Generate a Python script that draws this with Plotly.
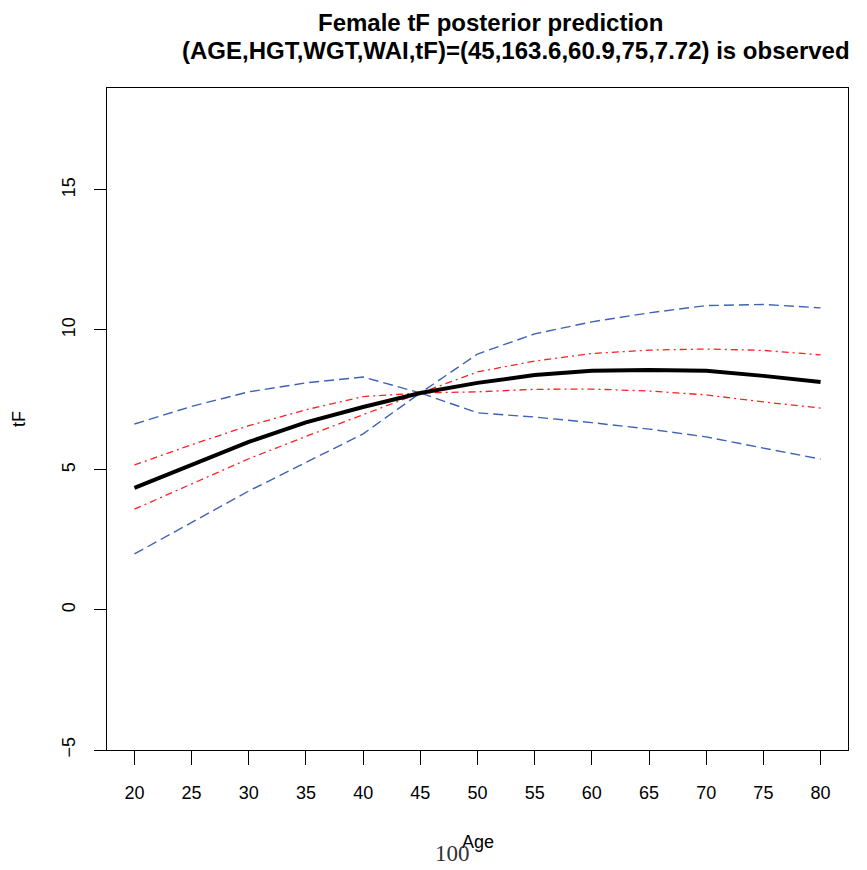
import plotly.graph_objects as go

age = [20, 25, 30, 35, 40, 45, 50, 55, 60, 65, 70, 75, 80]
mean_tf = [4.36, 5.18, 6.0, 6.7, 7.25, 7.75, 8.11, 8.39, 8.54, 8.57, 8.54, 8.36, 8.14]
upper95 = [6.64, 7.27, 7.79, 8.11, 8.32, 7.75, 9.14, 9.86, 10.29, 10.61, 10.87, 10.91, 10.79]
lower95 = [2.0, 3.14, 4.25, 5.27, 6.29, 7.75, 7.04, 6.89, 6.69, 6.46, 6.18, 5.78, 5.39]
upper50 = [5.18, 5.9, 6.58, 7.15, 7.62, 7.75, 8.5, 8.89, 9.16, 9.28, 9.32, 9.27, 9.11]
lower50 = [3.6, 4.5, 5.4, 6.2, 6.98, 7.75, 7.79, 7.88, 7.89, 7.82, 7.68, 7.43, 7.21]

x_ticks = [20, 25, 30, 35, 40, 45, 50, 55, 60, 65, 70, 75, 80]
y_ticks = [-5, 0, 5, 10, 15]

blue = "#3F62B5"
red = "#FF2020"

fig = go.Figure()
fig.add_trace(go.Scatter(x=age, y=upper95, mode="lines",
                         line=dict(color=blue, width=1.4, dash="10px,5px")))
fig.add_trace(go.Scatter(x=age, y=lower95, mode="lines",
                         line=dict(color=blue, width=1.4, dash="10px,5px")))
fig.add_trace(go.Scatter(x=age, y=upper50, mode="lines",
                         line=dict(color=red, width=1.3, dash="7px,4px,2px,4px")))
fig.add_trace(go.Scatter(x=age, y=lower50, mode="lines",
                         line=dict(color=red, width=1.3, dash="7px,4px,2px,4px")))
fig.add_trace(go.Scatter(x=age, y=mean_tf, mode="lines",
                         line=dict(color="black", width=4)))

font = "Liberation Sans, Arial, Helvetica, sans-serif"

# plot area: x 107..848, y 88..750 in window pixels (page body has 8px margin)
PL, PR, PT, PB = 107, 848, 88, 750
PW, PH = PR - PL, PB - PT

def px(x):
    return (x - PL) / PW

def py(y):
    return (PB - y) / PH

fig.update_layout(
    width=859, height=862,
    margin=dict(l=99, r=19, t=80, b=120),
    paper_bgcolor="white", plot_bgcolor="white",
    showlegend=False,
    font=dict(family=font, color="black", size=18),
    xaxis=dict(range=[17.6, 82.4], tickvals=x_ticks, ticktext=[str(v) for v in x_ticks],
               showgrid=False, zeroline=False, showline=True, mirror=True,
               linecolor="black", linewidth=1.2, ticks="outside", ticklen=14,
               tickcolor="black", ticklabelstandoff=12,
               tickfont=dict(size=18)),
    yaxis=dict(range=[-5, 18.64], tickvals=y_ticks,
               ticktext=[str(v).replace("-", "\u2212") for v in y_ticks],
               showgrid=False, zeroline=False, showline=True, mirror=True,
               linecolor="black", linewidth=1.2, ticks="outside", ticklen=12,
               tickcolor="black", tickangle=-90, ticklabelstandoff=12,
               tickfont=dict(size=18)),
    annotations=[
        dict(text="<b>Female tF posterior prediction</b>", xref="paper", yref="paper",
             x=px(490), y=py(22), showarrow=False,
             font=dict(size=24, family=font), xanchor="center", yanchor="middle"),
        dict(text="<b>(AGE,HGT,WGT,WAI,tF)=(45,163.6,60.9,75,7.72) is observed</b>",
             xref="paper", yref="paper",
             x=px(516), y=py(51), showarrow=False,
             font=dict(size=24, family=font), xanchor="center", yanchor="middle"),
        dict(text="Age", xref="paper", yref="paper",
             x=px(478), y=py(842), showarrow=False,
             font=dict(size=18, family=font), xanchor="center", yanchor="middle"),
        dict(text="tF", xref="paper", yref="paper",
             x=px(19), y=py(419), showarrow=False, textangle=-90,
             font=dict(size=18, family=font), xanchor="center", yanchor="middle"),
        dict(text="100", xref="paper", yref="paper",
             x=px(452), y=py(853), showarrow=False,
             font=dict(size=23, family="Liberation Serif, DejaVu Serif, serif", color="#333333"),
             xanchor="center", yanchor="middle"),
    ],
)

fig.write_html("out.html")
